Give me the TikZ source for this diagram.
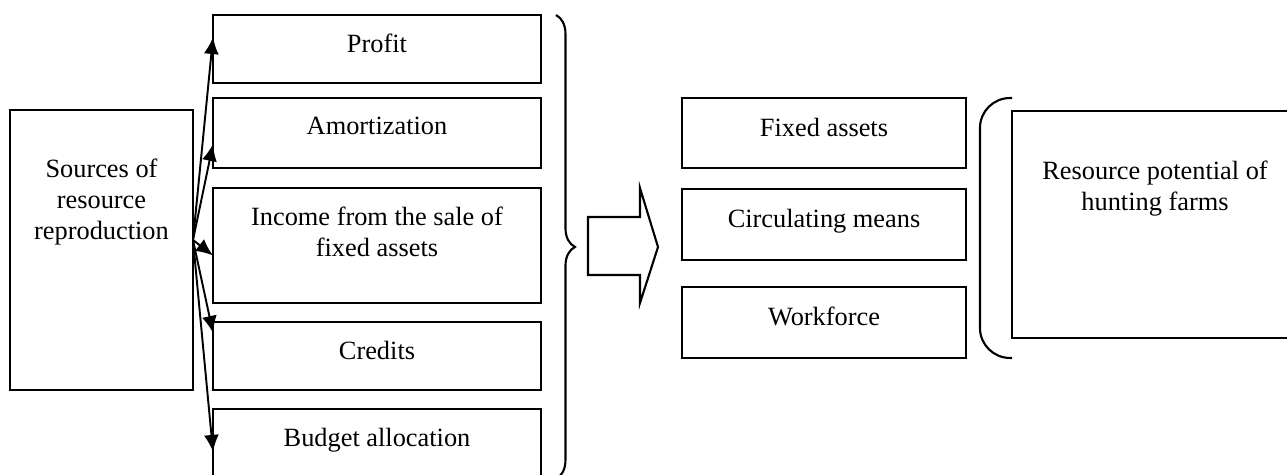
\documentclass[tikz,border=0pt]{standalone}
\usepackage{fontspec}
\setmainfont{Liberation Serif}
\usetikzlibrary{arrows.meta, positioning, decorations.pathreplacing}
\tikzstyle{source} = [rectangle, draw=black, line width=1.2pt, outer sep=0pt, minimum width=3.66cm, minimum height=5.6cm]
\tikzstyle{block} = [rectangle, draw=black, line width=1.2pt, outer sep=0pt, minimum width=6.56cm]
\tikzstyle{resource} = [rectangle, draw=black, line width=1.2pt, outer sep=0pt, minimum width=5.68cm]
\tikzstyle{result} = [rectangle, draw=black, line width=1.2pt, outer sep=0pt, minimum width=5.72cm, minimum height=4.54cm]
\tikzset{blocktext/.style={anchor=north, inner sep=0pt, align=center, yshift=#1}, blocktext/.default=-0.38cm}
\tikzstyle{arrow} = [line width=1.1pt, -{Latex[length=0.34cm, width=0.3cm]}]
\tikzstyle{bracket} = [line width=1.2pt]

\begin{document}
\begin{tikzpicture}[x=0.02cm, y=-0.02cm, node distance=0.38cm, font=\fontsize{15}{17.6}\selectfont]
	\useasboundingbox (0,0) rectangle (1287,474);
	\clip (0,0) rectangle (1287,474);

	\node (sources) [source, label={[blocktext=-0.98cm]north:Sources of\\resource\\reproduction}] at (101.5,250) {};

	\node (profit) [block, minimum height=1.36cm, label={[blocktext]north:Profit}] at (377,49) {};
	\node (amortization) [block, minimum height=1.4cm, below=0.3cm of profit, label={[blocktext]north:Amortization}] {};
	\node (income) [block, minimum height=2.3cm, below=0.4cm of amortization, label={[blocktext]north:Income from the sale of\\fixed assets}] {};
	\node (credits) [block, minimum height=1.36cm, below=of income, label={[blocktext]north:Credits}] {};
	\node (budget) [block, minimum height=1.4cm, below=of credits, label={[blocktext]north:Budget allocation}] {};

	\node (fixed) [resource, minimum height=1.4cm, label={[blocktext=-0.4cm]north:Fixed assets}] at (824,133) {};
	\node (circulating) [resource, minimum height=1.42cm, below=0.42cm of fixed, label={[blocktext=-0.4cm]north:Circulating means}] {};
	\node (workforce) [resource, minimum height=1.42cm, below=0.54cm of circulating, label={[blocktext=-0.4cm]north:Workforce}] {};

	\node (potential) [result, label={[blocktext=-1.0cm]north:Resource potential of\\hunting farms}] at (1155,224.5) {};

	% arrows from the sources
	\coordinate (hub) at ([yshift=0.2cm]sources.east);
	\draw [arrow] (hub) -- ([yshift=0.24cm]profit.west);
	\draw [arrow] (hub) -- ([yshift=-0.22cm]amortization.west);
	\draw [arrow] (hub) -- ([yshift=-0.2cm]income.west);
	\draw [arrow] (hub) -- ([yshift=0.46cm]credits.west);
	\draw [arrow] (hub) -- ([yshift=-0.16cm]budget.west);

	% brace and big arrow
	\draw [bracket, decorate, decoration={brace, amplitude=0.38cm}] ([xshift=0.3cm]profit.north east) -- ([xshift=0.3cm]budget.south east);
	\draw [bracket] (588,217) -- (640,217) -- (640,188) -- (658,247) -- (640,303) -- (640,275) -- (588,275) -- cycle;

	\draw [bracket, rounded corners=0.6cm] (potential.west |- fixed.north) -- ([xshift=0.28cm]fixed.north east) -- ([xshift=0.28cm]workforce.south east) -- (potential.west |- workforce.south);
\end{tikzpicture}
\end{document}
